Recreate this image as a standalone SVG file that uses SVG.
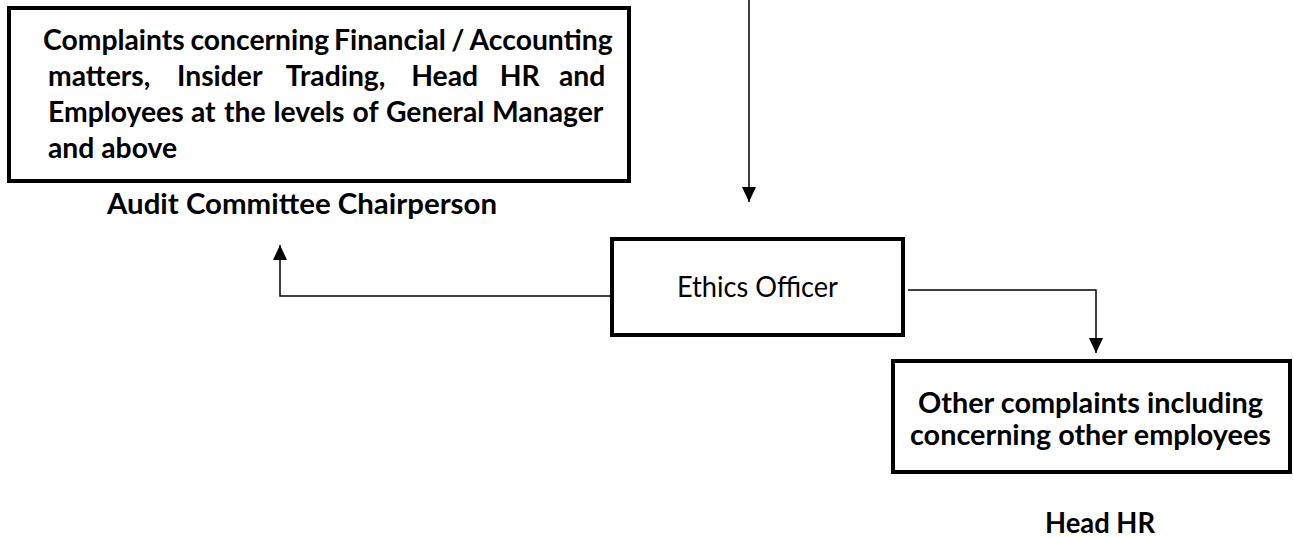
<svg xmlns="http://www.w3.org/2000/svg" width="1293" height="538" viewBox="0 0 1293 538">
<style>
.box{fill:#fff;stroke:#000;stroke-width:4}
.b{font-family:Lato,"Open Sans","DejaVu Sans",sans-serif;font-weight:bold;fill:#000}
.r{font-family:Lato,"Open Sans","DejaVu Sans",sans-serif;font-weight:normal;fill:#000}
.t{font-size:28.3px}
.c{fill:none;stroke:#000;stroke-width:1.5}
</style>
<defs>
<marker id="ah" markerUnits="userSpaceOnUse" markerWidth="16" markerHeight="16" refX="15" refY="7" orient="auto">
<path d="M0,0 L15,7 L0,14 z" fill="#000"/>
</marker>
</defs>
<rect width="1293" height="538" fill="#fff"/>
<g id="connectors">
<path class="c" d="M749,0 V202" marker-end="url(#ah)"/>
<path class="c" d="M612,296 H280 V245" marker-end="url(#ah)"/>
<path class="c" d="M908,290 H1096 V353" marker-end="url(#ah)"/>
</g>
<g id="audit-box">
<rect class="box" x="9" y="8" width="620" height="173"/>
<text class="b t" y="50"><tspan x="43">Complaints</tspan><tspan x="190.4">concerning</tspan><tspan x="334.1">Financial</tspan><tspan x="451.2">/</tspan><tspan x="469.6">Accounting</tspan></text>
<text class="b t" y="86"><tspan x="48">matters,</tspan><tspan x="177">Insider</tspan><tspan x="285.8">Trading,</tspan><tspan x="411.2">Head</tspan><tspan x="499.7">HR</tspan><tspan x="559">and</tspan></text>
<text class="b t" y="122"><tspan x="48">Employees</tspan><tspan x="190.9">at</tspan><tspan x="224">the</tspan><tspan x="273.5">levels</tspan><tspan x="352.5">of</tspan><tspan x="386">General</tspan><tspan x="492">Manager</tspan></text>
<text class="b t" x="48" y="158">and above</text>
</g>
<g id="audit-label">
<text class="b" font-size="28.8" x="302" y="214" text-anchor="middle" textLength="390" lengthAdjust="spacingAndGlyphs">Audit Committee Chairperson</text>
</g>
<g id="ethics-officer">
<rect class="box" x="612" y="239" width="291" height="96"/>
<text class="r" font-size="28.3" x="757.5" y="297" text-anchor="middle" textLength="161" lengthAdjust="spacingAndGlyphs">Ethics Officer</text>
</g>
<g id="other-box">
<rect class="box" x="893" y="361" width="397" height="111"/>
<text class="b" font-size="28.8" x="1090.5" y="413" text-anchor="middle" textLength="345" lengthAdjust="spacingAndGlyphs">Other complaints including</text>
<text class="b" font-size="28.8" x="1090.5" y="445" text-anchor="middle" textLength="361" lengthAdjust="spacingAndGlyphs">concerning other employees</text>
</g>
<g id="head-hr">
<text class="b" font-size="28.8" x="1100" y="533" text-anchor="middle" textLength="110" lengthAdjust="spacingAndGlyphs">Head HR</text>
</g>
</svg>
